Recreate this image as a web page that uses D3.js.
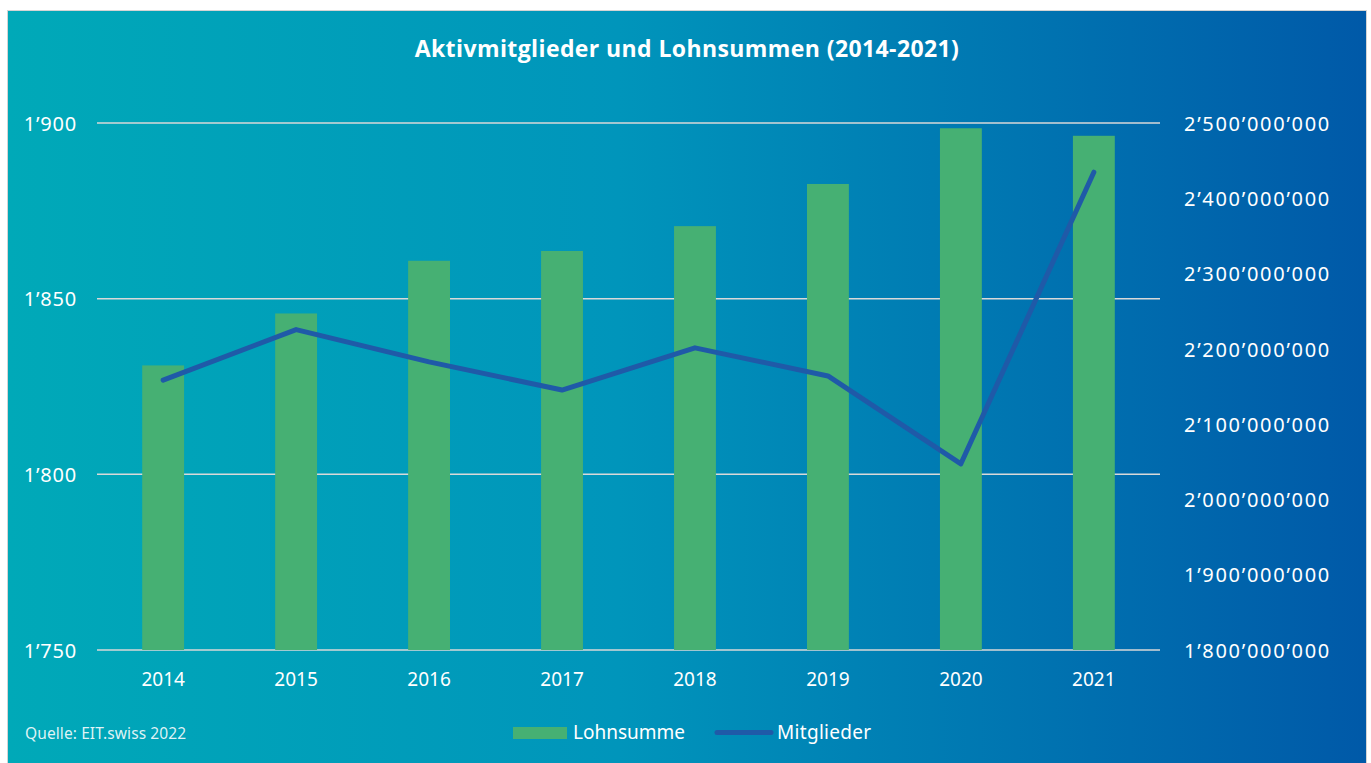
<!DOCTYPE html>
<html lang="de">
<head>
<meta charset="UTF-8">
<title>Aktivmitglieder und Lohnsummen</title>
<script src="https://cdn.jsdelivr.net/npm/d3@7"></script>
<style>
  body { margin: 0; background: #fff; }
  text { fill: #fff; font-family: "Noto Sans", "Open Sans", sans-serif; }
</style>
</head>
<body>
<div id="chart"></div>
<script>
var years = ['2014','2015','2016','2017','2018','2019','2020','2021'];
var lohnsumme = [2178000000, 2247000000, 2317000000, 2330000000, 2363000000, 2419000000, 2493000000, 2483000000];
var mitglieder = [1826.8, 1841.2, 1832, 1824, 1836, 1828, 1803, 1886];
var leftTicks = [1750, 1800, 1850, 1900];
var rightTicks = [1800000000, 1900000000, 2000000000, 2100000000, 2200000000, 2300000000, 2400000000, 2500000000];

var width = 1371, height = 763;
var plot = {left: 97, right: 1160, top: 123, bottom: 650};

var svg = d3.select('#chart').append('svg')
    .attr('width', width).attr('height', height);

var grad = svg.append('defs').append('linearGradient')
    .attr('id', 'bg').attr('x1', '0%').attr('x2', '100%').attr('y1', '0%').attr('y2', '0%');
grad.append('stop').attr('offset', '0%').attr('stop-color', '#00a9b8');
grad.append('stop').attr('offset', '45%').attr('stop-color', '#0095bb');
grad.append('stop').attr('offset', '100%').attr('stop-color', '#0059a8');

svg.append('rect')
    .attr('x', 7.5).attr('y', 10.5).attr('width', 1359).attr('height', 760)
    .attr('fill', 'url(#bg)').attr('stroke', '#d4d4d4').attr('stroke-width', 1);

var x = d3.scaleBand().domain(years).range([plot.left, plot.right]).paddingInner(0.685).paddingOuter(0.34);
var yL = d3.scaleLinear().domain([1750, 1900]).range([plot.bottom, plot.top]);
var yR = d3.scaleLinear().domain([1800000000, 2500000000]).range([plot.bottom, plot.top]);

var fmt = function(v){ return d3.format(',')(v).replace(/,/g, '\u2019'); };

// gridlines
svg.append('g').selectAll('line').data(leftTicks).enter().append('line')
    .attr('x1', plot.left).attr('x2', plot.right)
    .attr('y1', function(d){ return yL(d); }).attr('y2', function(d){ return yL(d); })
    .attr('stroke', '#d9d9d9').attr('stroke-width', 1.5);

// bars
svg.append('g').selectAll('rect').data(years).enter().append('rect')
    .attr('x', function(d){ return x(d); })
    .attr('width', x.bandwidth())
    .attr('y', function(d, i){ return yR(lohnsumme[i]); })
    .attr('height', function(d, i){ return plot.bottom - yR(lohnsumme[i]); })
    .attr('fill', '#46b073');

// line
var line = d3.line()
    .x(function(d, i){ return x(years[i]) + x.bandwidth() / 2; })
    .y(function(d){ return yL(d); });
svg.append('path').datum(mitglieder)
    .attr('d', line).attr('fill', 'none')
    .attr('stroke', '#1f5aa8').attr('stroke-width', 5)
    .attr('stroke-linecap', 'round').attr('stroke-linejoin', 'round');

// axes
var axL = svg.append('g').attr('transform', 'translate(' + (plot.left - 20) + ',0)')
    .call(d3.axisLeft(yL).tickValues(leftTicks).tickSize(0).tickFormat(fmt));
var axR = svg.append('g').attr('transform', 'translate(' + (plot.right + 24) + ',0)')
    .call(d3.axisRight(yR).tickValues(rightTicks).tickSize(0).tickFormat(fmt));
var axX = svg.append('g').attr('transform', 'translate(0,' + (plot.bottom + 18) + ')')
    .call(d3.axisBottom(x).tickSize(0));
[axL, axR, axX].forEach(function(g){
    g.select('.domain').remove();
    g.selectAll('text').attr('fill', '#fff').style('font-size', '19px')
        .style('font-family', '"Noto Sans", sans-serif');
});
axL.selectAll('text').attr('x', 0).attr('dy', '0.36em')
    .style('font-size', '20px').style('letter-spacing', '0.8px');
axR.selectAll('text').attr('x', 0).attr('dy', '0.36em')
    .style('font-size', '20px').style('letter-spacing', '1.7px');
axX.selectAll('text').attr('dy', '0.8em');

// title
svg.append('text').attr('x', 687).attr('y', 57).attr('text-anchor', 'middle')
    .style('font-size', '23px').style('font-weight', 'bold').style('letter-spacing', '0.4px')
    .style('font-family', '"Open Sans", sans-serif')
    .text('Aktivmitglieder und Lohnsummen (2014-2021)');

// source
svg.append('text').attr('x', 25).attr('y', 739)
    .style('font-size', '15.5px').style('letter-spacing', '0.1px').attr('fill-opacity', 0.88)
    .text('Quelle: EIT.swiss 2022');

// legend
var lg = svg.append('g');
lg.append('rect').attr('x', 513).attr('y', 727).attr('width', 54).attr('height', 12).attr('fill', '#46b073');
lg.append('text').attr('x', 573).attr('y', 739).style('font-size', '19px').text('Lohnsumme');
lg.append('line').attr('x1', 717).attr('x2', 771).attr('y1', 732.5).attr('y2', 732.5)
    .attr('stroke', '#1f5aa8').attr('stroke-width', 5).attr('stroke-linecap', 'round');
lg.append('text').attr('x', 777).attr('y', 739).style('font-size', '19px').style('letter-spacing', '0.3px').text('Mitglieder');
</script>
</body>
</html>
